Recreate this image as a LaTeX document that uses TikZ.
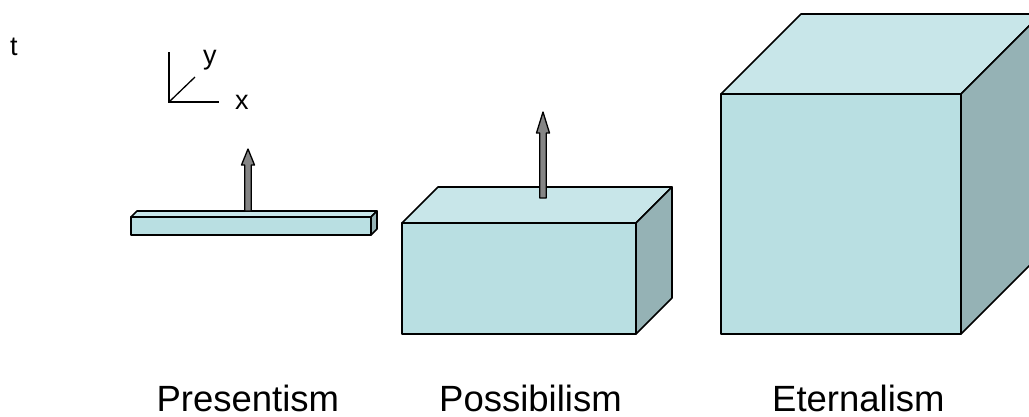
\documentclass[tikz,border=0pt]{standalone}
\usepackage{fontspec}
\setmainfont{Liberation Sans}
\definecolor{frontc}{HTML}{B9DFE2}
\definecolor{topc}{HTML}{C8E6E9}
\definecolor{sidec}{HTML}{95B2B5}
\definecolor{arrowc}{HTML}{858585}
\tikzset{
  face/.style={draw=black,line width=1.6pt,line join=round},
  axis/.style={draw=black,line width=1.3pt},
  tlabel/.style={font=\fontsize{36.5}{40}\selectfont,inner sep=0pt,text=black,anchor=base west},
  slabel/.style={font=\fontsize{27}{30}\selectfont,inner sep=0pt,text=black,anchor=base west},
  timearrow/.style={draw=black,fill=arrowc,line width=1.3pt,line join=round}
}
% #1 left, #2 right, #3 top, #4 bottom, #5 depth
\newcommand{\slab}[5]{%
  \path[face,fill=topc] (#1,#3) -- ({#1+#5},{#3-#5}) -- ({#2+#5},{#3-#5}) -- (#2,#3) -- cycle;
  \path[face,fill=sidec] (#2,#3) -- ({#2+#5},{#3-#5}) -- ({#2+#5},{#4-#5}) -- (#2,#4) -- cycle;
  \path[face,fill=frontc] (#1,#3) rectangle (#2,#4);
}
% #1 centre x, #2 tip y, #3 shoulder y, #4 base y
\newcommand{\tarrow}[4]{%
  \path[timearrow] ({#1-3.2},#4) -- ({#1-3.2},#3) -- ({#1-6.5},#3) -- (#1,#2) -- ({#1+6.5},#3) -- ({#1+3.2},#3) -- ({#1+3.2},#4) -- cycle;
}
\begin{document}
\begin{tikzpicture}[x=1pt,y=-1pt]
\useasboundingbox (0,0) rectangle (1029,416);
\slab{131}{371}{217}{235}{6}
\tarrow{248}{149}{165}{211}
\slab{402}{636}{223}{334}{36}
\tarrow{543}{112}{133}{198}
\begin{scope}
\clip (0,0) rectangle (1029,416);
\slab{721}{961}{94}{334}{80}
\end{scope}
\coordinate (o) at (169,102);
\coordinate (ay) at (169,52);
\coordinate (ad) at (195,77);
\coordinate (ax) at (219,102);
\draw[axis] (ay) -- (o) -- (ax);
\draw[axis] (o) -- (ad);
\node[slabel] (ly) at (203,64) {y};
\node[slabel] (lx) at (235,109) {x};
\node[slabel] (lt) at (10,55) {t};
\node[tlabel] (n1) at (156.3,411.7) {Presentism};
\node[tlabel] (n2) at (439,411.7) {Possibilism};
\node[tlabel] (n3) at (772,411.7) {Eternalism};
\end{tikzpicture}
\end{document}
